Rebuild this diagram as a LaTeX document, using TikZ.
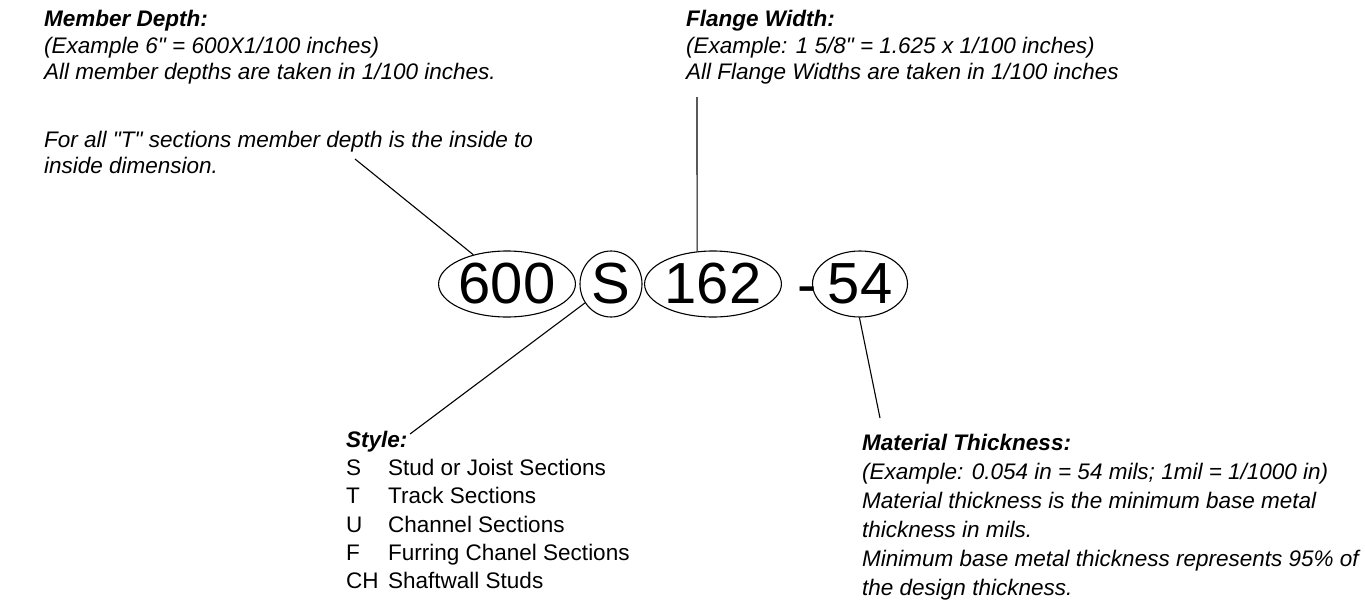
\documentclass[tikz,border=0pt]{standalone}
\usepackage{fontspec}
\setmainfont{Liberation Sans}[Ligatures=TeXOff]
\usetikzlibrary{shapes.geometric}
\begin{document}
\begin{tikzpicture}[x=1pt,y=-1pt,
  txt/.style={anchor=base west, inner sep=0, font=\fontsize{22.5}{27}\selectfont\itshape},
  hdr/.style={anchor=base west, inner sep=0, font=\fontsize{22.5}{27}\selectfont\bfseries\itshape},
  plain/.style={anchor=base west, inner sep=0, font=\fontsize{22.5}{27}\selectfont},
  part/.style={draw, line width=1.1pt, ellipse, inner sep=0, minimum height=66, font=\fontsize{58}{58}\selectfont},
  lead/.style={line width=1.1pt}]
\useasboundingbox (0,0) rectangle (1365,610);
% designation parts
\node[part, minimum width=136] (d600) at (507,284) {600};
\node[part, minimum width=62] (dS) at (611,284) {S};
\node[part, minimum width=135] (d162) at (713,284) {162};
\node[anchor=base, inner sep=0, font=\fontsize{58}{58}\selectfont] (dash) at (807,304) {-};
\node[part, minimum width=95] (d54) at (860,284) {54};
% member depth
\node[hdr] (md1) at (44,27) {Member Depth:};
\node[txt] (md2) at (44,53) {(Example 6" = 600X1/100 inches)};
\node[txt] (md3) at (44,80) {All member depths are taken in 1/100 inches.};
\node[txt] (md4) at (44,147) {For all "T" sections member depth is the inside to};
\node[txt] (md5) at (44,173) {inside dimension.};
% flange width
\node[hdr] (fw1) at (686,27) {Flange Width:};
\node[txt] (fw2) at (686,53) {(Example: 1 5/8" = 1.625 x 1/100 inches)};
\node[txt] (fw3) at (686,80) {All Flange Widths are taken in 1/100 inches};
% style
\node[hdr] (st0) at (346,447) {Style:};
\node[plain] (stS) at (346,475) {S};
\node[plain] (stT) at (346,503) {T};
\node[plain] (stU) at (346,532) {U};
\node[plain] (stF) at (346,560) {F};
\node[plain] (stC) at (346,588) {CH};
\node[plain] (stS2) at (388,475) {Stud or Joist Sections};
\node[plain] (stT2) at (388,503) {Track Sections};
\node[plain] (stU2) at (388,532) {Channel Sections};
\node[plain] (stF2) at (388,560) {Furring Chanel Sections};
\node[plain] (stC2) at (388,588) {Shaftwall Studs};
% material thickness
\node[hdr] (mt1) at (862,450) {Material Thickness:};
\node[txt] (mt2) at (862,479) {(Example: 0.054 in = 54 mils; 1mil = 1/1000 in)};
\node[txt] (mt3) at (862,508) {Material thickness is the minimum base metal};
\node[txt] (mt4) at (862,537) {thickness in mils.};
\node[txt] (mt5) at (862,566) {Minimum base metal thickness represents 95\% of};
\node[txt] (mt6) at (862,595) {the design thickness.};
% leader end points
\coordinate (mdEnd) at (355,159);
\coordinate (fwEnd) at (697,97);
\coordinate (stEnd) at (410,434);
\coordinate (mtEnd) at (880,418);
\draw[lead] (mdEnd) -- (d600.139);
\draw[lead] (fwEnd) -- (d162.116);
\draw[lead] (stEnd) -- (dS.216);
\draw[lead] (mtEnd) -- (d54.-91);
\end{tikzpicture}
\end{document}
